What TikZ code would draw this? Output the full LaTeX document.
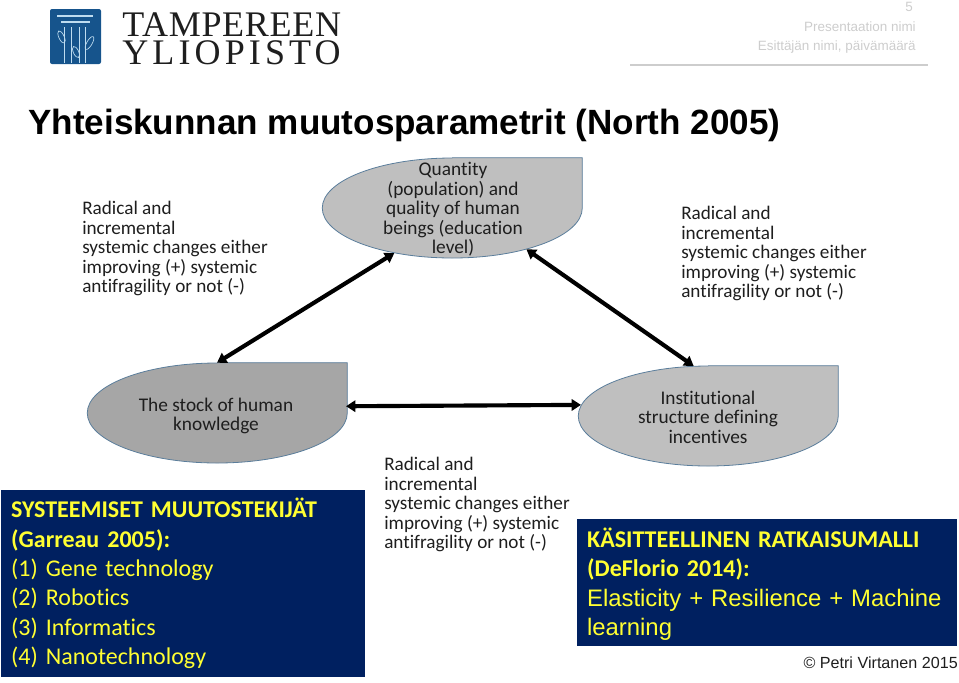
\documentclass[tikz,border=0pt]{standalone}
\usepackage{fontspec}
\setmainfont[Ligatures=CommonOff]{Carlito}
\newfontfamily\arialfont{Liberation Sans}
\newfontfamily\logofont{Liberation Serif}
\usetikzlibrary{shapes.geometric, arrows.meta, positioning}
\definecolor{navybox}{RGB}{0, 32, 96}
\definecolor{boxyellow}{RGB}{255, 255, 50}
\definecolor{logoblue}{RGB}{22, 84, 140}
\definecolor{logoline}{RGB}{190, 220, 240}
\definecolor{shapelight}{RGB}{191, 191, 191}
\definecolor{shapedark}{RGB}{166, 166, 166}
\definecolor{shapeline}{RGB}{90, 125, 155}
\definecolor{headgrey}{RGB}{205, 205, 205}
\definecolor{captext}{RGB}{30, 30, 30}
\tikzset{
  tearbox/.style={ellipse, minimum width=195pt, minimum height=75pt, inner sep=0pt},
  tearline/.style={draw=shapeline, line width=0.6pt},
  tearlabel/.style={align=center, inner sep=0pt, text=captext, font=\fontsize{14.5}{14.65}\selectfont},
  sidenote/.style={anchor=north west, align=left, inner sep=0pt, text=captext, font=\fontsize{14.4}{14.65}\selectfont},
  bigarrow/.style={{Triangle[length=7pt,width=8.5pt]}-{Triangle[length=7pt,width=8.5pt]}, line width=3.1pt, black},
  navynote/.style={fill=navybox, text=boxyellow, align=left, inner xsep=7.6pt, inner ysep=0pt, font=\fontsize{18}{22}\selectfont},
  headtext/.style={anchor=east, inner sep=0pt, text=headgrey, font=\arialfont\fontsize{10.1}{12}\selectfont},
  logoleaf/.style={draw=logoline, line width=0.5pt}
}
\newcommand{\tearshape}[2]{%
  \draw[tearline, fill=#2] (#1.north) -- (#1.north -| #1.east) -- (#1.east)
    arc[start angle=0, end angle=-270, x radius=97.5pt, y radius=37.5pt];
}
\begin{document}
\begin{tikzpicture}[x=0.75pt, y=-0.75pt]
  \useasboundingbox (0,0) rectangle (959,682);

  % logo
  \node[fill=logoblue, rounded corners=1.5pt, minimum width=38.25pt, minimum height=41.25pt, inner sep=0pt] (logo) at (75.5,36.5) {};
  \draw[logoline, line width=0.8pt] (57,16) -- (93,16);
  \draw[logoline, line width=0.8pt] (61,22) -- (90,22);
  \foreach \px in {64.3, 71.7, 79, 85.7} {
    \draw[logoline, line width=0.7pt] (\px,27) -- (\px,63);
  }
  \draw[logoleaf] (61.5,37) ellipse[x radius=2pt, y radius=5pt, rotate=25];
  \draw[logoleaf] (76,52) ellipse[x radius=2pt, y radius=4.5pt, rotate=25];
  \draw[logoleaf] (89.5,43) ellipse[x radius=2pt, y radius=5.5pt, rotate=-30];
  \node[anchor=base west, inner sep=0pt, text=captext, font=\logofont\fontsize{27}{27}\selectfont\addfontfeature{LetterSpace=2}] (logotop) at (122,36) {TAMPEREEN};
  \node[anchor=base west, inner sep=0pt, text=captext, font=\logofont\fontsize{27}{27}\selectfont\addfontfeature{LetterSpace=11.5}] (logobottom) at (122,64) {YLIOPISTO};

  % header
  \node[headtext] (pagenum) at (913,7) {5};
  \node[headtext] (talkname) at (916,27) {Presentaation nimi};
  \node[headtext] (speaker) at (916,47) {Esittäjän nimi, päivämäärä};
  \coordinate (ruleleft) at (630,65);
  \coordinate (ruleright) at (928,65);
  \draw[headgrey, line width=0.8pt] (ruleleft) -- (ruleright);

  % title
  \node[anchor=base west, inner sep=0pt, font=\arialfont\bfseries\fontsize{26.3}{30}\selectfont] (title) at (28,134) {Yhteiskunnan muutosparametrit (North 2005)};

  % quantity
  \node[tearbox] (quantity) at (452,208) {};
  \tearshape{quantity}{shapelight}
  \node[tearlabel] (quantitytext) at (453,209.5) {Quantity\\(population) and\\quality of human\\beings (education\\level)};

  % stock
  \node[tearbox] (stock) at (217,413) {};
  \tearshape{stock}{shapedark}
  \node[tearlabel] (stocktext) at (216,416) {The stock of human\\knowledge};

  % institutions
  \node[tearbox] (inst) at (708,416) {};
  \tearshape{inst}{shapelight}
  \node[tearlabel] (insttext) at (708,417) {Institutional\\structure  defining\\incentives};

  % arrows
  \draw[bigarrow] (quantity.218) -- (stock.north);
  \draw[bigarrow] (quantity.331) -- (inst.106);
  \draw[bigarrow] (stock.3) -- (inst.175.5);

  % radical notes
  \node[sidenote] (noteleft) at (82,201) {Radical and\\incremental\\systemic changes either\\improving (+) systemic\\antifragility or not (-)};
  \node[sidenote] (noteright) at (681,206) {Radical and\\incremental\\systemic changes either\\improving (+) systemic\\antifragility or not (-)};
  \node[sidenote] (notemid) at (384,457) {Radical and\\incremental\\systemic changes either\\improving (+) systemic\\antifragility or not (-)};

  % navy boxes
  \node[navynote, minimum width=273pt, minimum height=140.25pt, text width=257.8pt] (drivers) at (183,583.5) {
    \textbf{SYSTEEMISET MUUTOSTEKIJÄT}\\
    \textbf{(Garreau 2005):}\\
    (1) Gene technology\\
    (2) Robotics\\
    (3) Informatics\\
    (4) Nanotechnology
  };
  \node[navynote, minimum width=285pt, minimum height=95.25pt, text width=269.8pt] (solution) at (767,582.5) {
    \rule{0pt}{17pt}\textbf{KÄSITTEELLINEN RATKAISUMALLI}\\
    \textbf{(DeFlorio 2014):}\\
    {\arialfont\fontsize{17.9}{22}\selectfont Elasticity + Resilience + Machine}\\
    {\arialfont\fontsize{17.9}{22}\selectfont learning}
  };

  % copyright
  \node[anchor=base east, inner sep=0pt, text=captext, font=\arialfont\fontsize{12.1}{14}\selectfont] (credit) at (958,668) {© Petri Virtanen 2015};
\end{tikzpicture}
\end{document}
